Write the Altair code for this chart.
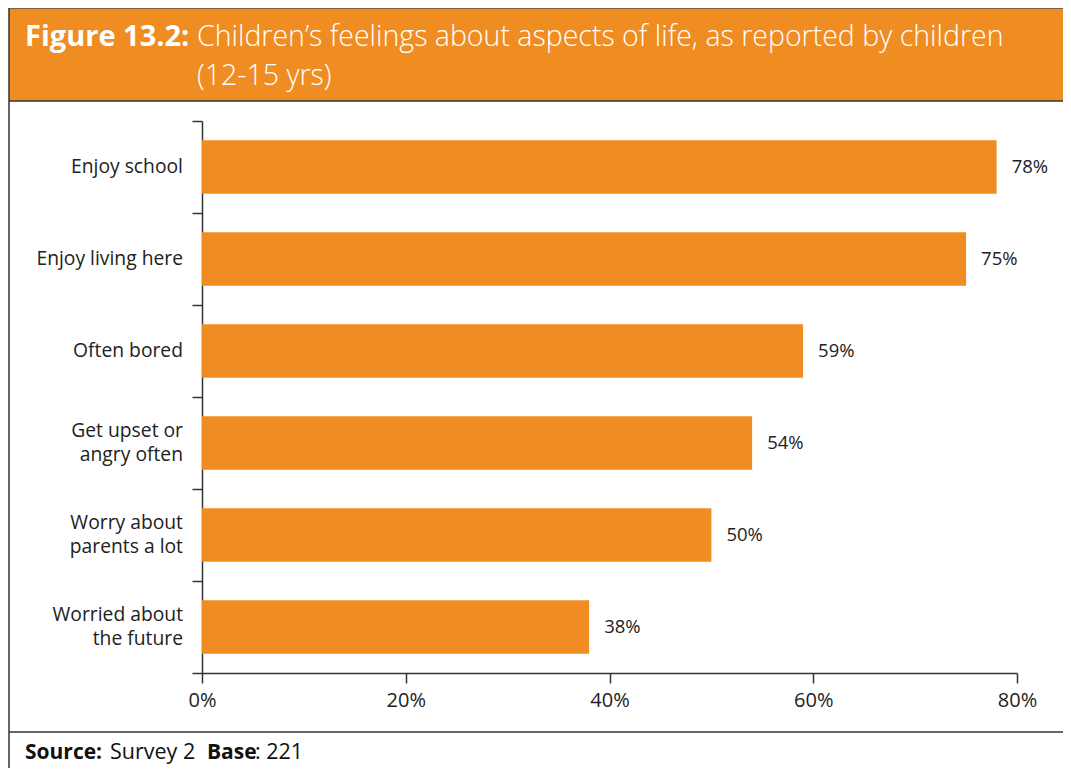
import altair as alt
import pandas as pd

categories = ["Enjoy school", "Enjoy living here", "Often bored",
              "Get upset or angry often", "Worry about parents a lot",
              "Worried about the future"]
label_lines = [["Enjoy school"], ["Enjoy living here"], ["Often bored"],
               ["Get upset or", "angry often"], ["Worry about", "parents a lot"],
               ["Worried about", "the future"]]
values = [78, 75, 59, 54, 50, 38]
x_ticks = [0, 20, 40, 60, 80]

title_bold = "Figure 13.2:"
title_line1 = "Children\u2019s feelings about aspects of life, as reported by children"
title_line2 = "(12-15 yrs)"
footer_parts = [("Source:", "bold"), ("Survey 2", "normal"), ("Base", "bold"), (": 221", "normal")]

ORANGE = "#EF8D22"
DARK = "#333333"
TXT = "#222222"
FONT = "Open Sans"
TFONT = "Open Sans"

df = pd.DataFrame({"cat": categories, "val": values})
df["lab"] = df["val"].astype(str) + "%"

# label line table for the category axis text
rows = []
for cat, lines in zip(categories, label_lines):
    n = len(lines)
    for i, ln in enumerate(lines):
        rows.append({"cat": cat, "line": ln, "pos": i - (n - 1) / 2})
lab_df = pd.DataFrame(rows)

W, H = 815, 552
LH = 24.5

base = alt.Chart(df)

yscale = alt.Scale(paddingInner=0, paddingOuter=0)

bars = base.mark_bar(color=ORANGE, height=alt.RelativeBandSize(0.58)).encode(
    y=alt.Y("cat:N", sort=categories, scale=yscale,
            axis=alt.Axis(title=None, tickBand="extent", tickSize=10,
                          tickColor=DARK, domainColor=DARK, tickWidth=1.5,
                          domainWidth=1.5, labels=False)),
    x=alt.X("val:Q", scale=alt.Scale(domain=[0, 80], nice=False),
            axis=alt.Axis(title=None, values=x_ticks, grid=False, tickSize=10,
                          tickColor=DARK, domainColor=DARK, tickWidth=1.5,
                          domainWidth=1.5, labelFont=FONT, labelFontSize=20,
                          labelColor=TXT, labelPadding=7, labelFlush=False,
                          labelExpr="datum.value + '%'")),
)

labels = base.mark_text(align="left", baseline="middle", dx=15,
                        font=FONT, fontSize=18.5, color=TXT).encode(
    y=alt.Y("cat:N", sort=categories),
    x=alt.X("val:Q"),
    text="lab:N",
)

cat_layers = []
for p in sorted(lab_df["pos"].unique()):
    sub = lab_df[lab_df["pos"] == p]
    cat_layers.append(
        alt.Chart(sub).mark_text(align="right", baseline="middle", font=FONT,
                                 fontSize=19.3, color=TXT, dx=-19,
                                 dy=float(p) * LH).encode(
            y=alt.Y("cat:N", sort=categories),
            x=alt.value(0),
            text="line:N"))

one = pd.DataFrame({"a": [0]})

header = alt.Chart(one).mark_rect(color=ORANGE).encode(
    x=alt.value(-193), x2=alt.value(880), y=alt.value(-113), y2=alt.value(-20))
header_top = alt.Chart(one).mark_rule(color="#555555", strokeWidth=1.5).encode(
    x=alt.value(-193), x2=alt.value(880), y=alt.value(-113))
header_bot = alt.Chart(one).mark_rule(color=DARK, strokeWidth=1.5).encode(
    x=alt.value(-193), x2=alt.value(880), y=alt.value(-20))

left_border = alt.Chart(one).mark_rule(color=DARK, strokeWidth=1.5).encode(
    x=alt.value(-193), y=alt.value(-113), y2=alt.value(700))

footer_line = alt.Chart(one).mark_rule(color=DARK, strokeWidth=1.5).encode(
    x=alt.value(-193), x2=alt.value(880), y=alt.value(611))

t1b = alt.Chart(one).mark_text(align="left", baseline="middle", font=TFONT,
                               fontSize=29, fontWeight="bold", color="white").encode(
    x=alt.value(-177), y=alt.value(-84), text=alt.value(title_bold))
t1 = alt.Chart(one).mark_text(align="left", baseline="middle", font=TFONT,
                              fontSize=28.5, fontWeight=300, color="white").encode(
    x=alt.value(-5), y=alt.value(-84), text=alt.value(title_line1))
t2 = alt.Chart(one).mark_text(align="left", baseline="middle", font=TFONT,
                              fontSize=28.5, fontWeight=300, color="white").encode(
    x=alt.value(-5), y=alt.value(-45), text=alt.value(title_line2))

foot_x = [-177, -92, 5, 53]
foot_size = [21, 21.5, 21, 21.5]
foot_layers = []
for (txt, wt), fx, fs in zip(footer_parts, foot_x, foot_size):
    foot_layers.append(
        alt.Chart(one).mark_text(align="left", baseline="middle", font=FONT,
                                 fontSize=fs, fontWeight=wt, color="#111111").encode(
            x=alt.value(fx), y=alt.value(632), text=alt.value(txt)))

chart = alt.layer(header, header_top, header_bot, left_border, footer_line,
                  t1b, t1, t2, *foot_layers, bars, labels, *cat_layers).properties(
    width=W, height=H,
    autosize=alt.AutoSizeParams(type="none"),
    padding={"left": 194, "top": 113, "right": 46, "bottom": 95},
).configure_view(stroke=None)

chart.save("out.html", embed_options={"renderer": "svg", "actions": False})
